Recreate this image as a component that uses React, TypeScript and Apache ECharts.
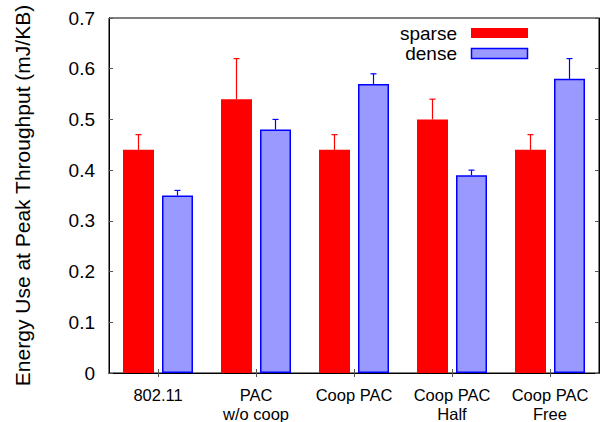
import React, { useEffect, useRef } from "react";
import * as echarts from "echarts";

const categories = ["802.11", "PAC\nw/o coop", "Coop PAC", "Coop PAC\nHalf", "Coop PAC\nFree"];
const seriesNames = ["sparse", "dense"];
const sparseValues = [0.44, 0.54, 0.44, 0.5, 0.44];
const sparseUpper = [0.47, 0.62, 0.47, 0.54, 0.47];
const denseValues = [0.35, 0.48, 0.57, 0.39, 0.58];
const denseUpper = [0.36, 0.5, 0.59, 0.4, 0.62];
const yMin = 0;
const yMax = 0.7;
const yInterval = 0.1;

const FONT = "Liberation Sans";
const RED = "#ff0000";
const BLUE_FILL = "#9999ff";
const BLUE_LINE = "#0000ff";
const BAR_W = 31;
const BAR_GAP_PX = 8;
const OFFSET = (BAR_W + BAR_GAP_PX) / 2;

function errorSeries(values: number[], upper: number[], sign: number, color: string) {
  return {
    type: "custom",
    z: 5,
    silent: true,
    data: values.map((v, i) => [i, v, upper[i]]),
    encode: { x: 0, y: [1, 2] },
    renderItem: (params: any, api: any) => {
      const idx = api.value(0);
      const lo = api.coord([idx, api.value(1)]);
      const hi = api.coord([idx, api.value(2)]);
      const x = lo[0] + sign * OFFSET;
      const cap = 3;
      return {
        type: "group",
        children: [
          { type: "line", shape: { x1: x, y1: lo[1], x2: x, y2: hi[1] }, style: { stroke: color, lineWidth: 1.2 } },
          { type: "line", shape: { x1: x - cap, y1: hi[1], x2: x + cap, y2: hi[1] }, style: { stroke: color, lineWidth: 1.2 } },
        ],
      };
    },
  };
}

export default function App() {
  const ref = useRef<HTMLDivElement>(null);
  useEffect(() => {
    if (!ref.current) return;
    const chart = echarts.init(ref.current, null, { renderer: "svg" });
    const axisLineStyle = { color: "#000", width: 1 };
    const tickStyle = { color: "#555", width: 1 };
    chart.setOption({
      animation: false,
      backgroundColor: "#fff",
      textStyle: { fontFamily: FONT },
      grid: {
        left: 109,
        right: 2,
        top: 18,
        bottom: 49,
        show: true,
        borderColor: "#000",
        borderWidth: 1,
        outerBoundsMode: "none",
      },
      xAxis: [
        {
          type: "category",
          data: categories,
          position: "bottom",
          axisLine: { show: true, lineStyle: axisLineStyle },
          axisTick: { show: true, inside: true, length: 4, alignWithLabel: true, lineStyle: tickStyle },
          axisLabel: { show: true, color: "#000", fontFamily: FONT, fontSize: 16.5, lineHeight: 19, margin: 12, interval: 0 },
          splitLine: { show: false },
        },
        {
          type: "category",
          data: categories,
          position: "top",
          axisLine: { show: true, lineStyle: axisLineStyle },
          axisTick: { show: true, inside: true, length: 4, alignWithLabel: true, lineStyle: tickStyle },
          axisLabel: { show: false },
          splitLine: { show: false },
        },
      ],
      yAxis: [
        {
          type: "value",
          min: yMin,
          max: yMax,
          interval: yInterval,
          position: "left",
          name: "Energy Use at Peak Throughput (mJ/KB)",
          nameLocation: "middle",
          nameRotate: 90,
          nameGap: 76,
          nameTextStyle: { color: "#000", fontFamily: FONT, fontSize: 21 },
          axisLine: { show: true, lineStyle: axisLineStyle },
          axisTick: { show: true, inside: true, length: 4, lineStyle: tickStyle },
          axisLabel: {
            color: "#000",
            fontFamily: FONT,
            fontSize: 19,
            margin: 14,
            formatter: (v: number) => (v === 0 ? "0" : v.toFixed(1)),
          },
          splitLine: { show: false },
        },
        {
          type: "value",
          min: yMin,
          max: yMax,
          interval: yInterval,
          position: "right",
          axisLine: { show: true, lineStyle: axisLineStyle },
          axisTick: { show: true, inside: true, length: 4, lineStyle: tickStyle },
          axisLabel: { show: false },
          splitLine: { show: false },
        },
      ],
      series: [
        {
          name: seriesNames[0],
          type: "bar",
          data: sparseValues,
          barWidth: BAR_W,
          barGap: `${(BAR_GAP_PX / BAR_W) * 100}%`,
          itemStyle: { color: RED },
        },
        {
          name: seriesNames[1],
          type: "bar",
          data: denseValues,
          barWidth: BAR_W,
          itemStyle: { color: BLUE_FILL, borderColor: BLUE_LINE, borderWidth: 1.5 },
        },
        errorSeries(sparseValues, sparseUpper, -1, RED),
        errorSeries(denseValues, denseUpper, 1, BLUE_LINE),
      ],
      graphic: [
        {
          type: "text",
          x: 457,
          y: 33,
          style: { text: seriesNames[0], fill: "#000", font: `19px "${FONT}"`, align: "right", verticalAlign: "middle" },
          z: 10,
        },
        {
          type: "rect",
          shape: { x: 471, y: 28, width: 57, height: 10 },
          style: { fill: RED },
          z: 10,
        },
        {
          type: "text",
          x: 457,
          y: 53,
          style: { text: seriesNames[1], fill: "#000", font: `19px "${FONT}"`, align: "right", verticalAlign: "middle" },
          z: 10,
        },
        {
          type: "rect",
          shape: { x: 471.5, y: 48.5, width: 56, height: 10 },
          style: { fill: BLUE_FILL, stroke: BLUE_LINE, lineWidth: 1.5 },
          z: 10,
        },
      ],
    });
    return () => chart.dispose();
  }, []);
  return <div ref={ref} style={{ position: "absolute", left: 0, top: 0, width: 601, height: 422 }} />;
}
